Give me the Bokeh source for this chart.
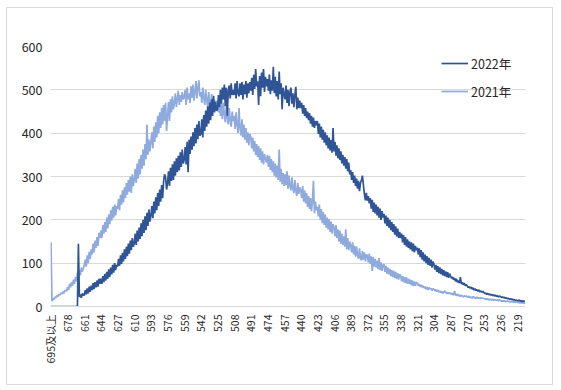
import math
from bokeh.plotting import figure
from bokeh.models import Range1d, FixedTicker, Legend, LegendItem, InlineStyleSheet
from bokeh.embed import file_html
from bokeh.resources import INLINE

# categories: scores from "695及以上" down to 211
scores = ["695及以上"] + [str(s) for s in range(694, 210, -1)]
tick_step = 17
y_ticks = [0, 100, 200, 300, 400, 500, 600]

series_names = ["2022年", "2021年"]

counts_2021 = [
    148,
    12, 18, 16, 22, 20, 25, 23, 28, 26, 31, 29, 34, 30, 36, 38, 35,
    45, 38, 52, 44, 56, 48, 62, 52, 68, 58, 78, 66, 84, 72, 90, 80, 88,
    95, 108, 92, 118, 100, 126, 110, 132, 120, 145, 125, 152, 135, 160, 140, 170, 158,
    175, 158, 188, 168, 195, 172, 205, 180, 212, 190, 222, 198, 230, 205, 235, 210, 232,
    225, 248, 222, 258, 235, 268, 240, 275, 250, 285, 258, 292, 265, 300, 262, 305, 278,
    292, 318, 285, 330, 295, 340, 305, 350, 318, 362, 325, 375, 340, 420, 350, 385, 358,
    380, 402, 365, 415, 380, 425, 390, 440, 400, 448, 412, 458, 420, 465, 428, 470, 405,
    440, 472, 428, 478, 448, 485, 455, 470, 492, 460, 480, 498, 465, 488, 472, 495, 478,
    482, 500, 465, 505, 478, 492, 470, 508, 482, 512, 475, 495, 520, 480, 505, 522, 485,
    495, 470, 505, 482, 465, 500, 475, 462, 495, 470, 455, 490, 462, 480, 452, 475, 460,
    475, 448, 480, 440, 468, 432, 470, 445, 425, 462, 438, 420, 458, 430, 415, 450, 428,
    440, 410, 448, 420, 400, 458, 412, 395, 432, 390, 420, 385, 412, 378, 402, 372, 398,
    392, 365, 390, 358, 382, 350, 375, 345, 370, 338, 365, 332, 358, 328, 352, 340, 332,
    350, 322, 348, 315, 340, 310, 335, 302, 330, 298, 325, 292, 362, 288, 318, 282, 308,
    278, 305, 280, 312, 272, 302, 278, 268, 298, 272, 262, 292, 268, 255, 285, 260, 275,
    268, 250, 278, 242, 268, 238, 262, 230, 255, 225, 250, 220, 245, 290, 215, 242, 222,
    230, 208, 235, 200, 225, 192, 218, 188, 212, 182, 205, 178, 202, 172, 196, 168, 190,
    182, 162, 188, 158, 178, 150, 175, 145, 168, 142, 162, 138, 178, 132, 158, 130, 150,
    142, 125, 148, 120, 140, 115, 138, 118, 110, 134, 112, 106, 128, 108, 125, 104, 120,
    118, 102, 122, 98, 116, 82, 114, 92, 110, 90, 106, 86, 112, 84, 102, 82, 96,
    97, 80, 94, 76, 90, 74, 87, 70, 84, 68, 82, 66, 80, 64, 77, 62, 74,
    72, 58, 70, 56, 68, 54, 67, 52, 64, 52, 62, 49, 60, 47, 58, 48, 56,
    54, 48, 52, 45, 50, 44, 48, 42, 46, 40, 45, 38, 44, 40, 42, 37, 41,
    40, 36, 39, 34, 38, 33, 36, 32, 35, 30, 34, 36, 31, 33, 29, 32, 30,
    31, 28, 30, 26, 36, 27, 25, 29, 24, 27, 23, 26, 24, 22, 25, 23, 24,
    23, 21, 24, 20, 22, 19, 23, 20, 21, 18, 22, 19, 20, 18, 21, 19, 19,
    19, 17, 18, 16, 18, 15, 17, 16, 15, 17, 14, 16, 15, 14, 16, 13, 15,
    14, 12, 13, 12, 14, 11, 12, 13, 11, 12, 10, 12, 11, 10, 11, 9, 11,
    10, 9, 10, 8, 9, 8, 9, 7, 8,
]

counts_2022 = [
    0, 0, 0, 0, 0, 0, 0, 0, 0, 0, 0, 0, 0, 0, 0, 0, 0, 0, 0, 0, 0, 0, 0, 0, 0, 0, 0, 0,
    145,
    22, 28, 20, 30, 26,
    26, 38, 28, 42, 30, 46, 34, 48, 38, 54, 40, 56, 44, 60, 46, 64, 52,
    64, 52, 70, 56, 75, 60, 80, 64, 86, 68, 90, 74, 96, 78, 100, 84, 96,
    92, 110, 94, 118, 98, 124, 104, 132, 110, 138, 116, 145, 122, 152, 130, 158, 138,
    145, 168, 142, 175, 150, 182, 156, 192, 162, 200, 170, 208, 176, 216, 186, 224, 196,
    210, 232, 204, 242, 215, 252, 222, 262, 232, 270, 242, 280, 250, 290, 305, 298, 270,
    284, 312, 278, 320, 290, 328, 292, 335, 302, 342, 310, 348, 314, 356, 322, 362, 330,
    338, 368, 328, 380, 310, 385, 352, 392, 362, 402, 370, 412, 376, 420, 386, 428, 394,
    398, 432, 390, 442, 405, 452, 415, 462, 422, 470, 430, 478, 440, 486, 448, 472, 452,
    455, 488, 460, 500, 468, 505, 478, 512, 462, 505, 440, 498, 510, 480, 515, 488, 500,
    488, 515, 480, 520, 492, 485, 515, 488, 518, 478, 512, 490, 520, 482, 515, 492, 518,
    498, 528, 488, 535, 502, 548, 508, 520, 465, 532, 485, 540, 505, 548, 495, 530, 508,
    525, 498, 535, 490, 522, 498, 553, 492, 530, 485, 520, 478, 542, 490, 515, 455, 505,
    490, 478, 510, 470, 500, 462, 495, 505, 468, 492, 460, 488, 507, 455, 482, 458, 475,
    458, 470, 445, 465, 440, 458, 435, 450, 430, 446, 422, 440, 415, 436, 412, 428, 418,
    428, 398, 422, 390, 415, 385, 408, 378, 402, 372, 395, 365, 390, 360, 384, 355, 412,
    358, 380, 348, 372, 342, 365, 338, 358, 330, 350, 325, 345, 318, 340, 312, 332, 305,
    315, 292, 310, 285, 302, 278, 295, 272, 290, 266, 285, 292, 302, 280, 260, 245, 262,
    244, 255, 238, 250, 226, 246, 218, 240, 215, 235, 210, 230, 205, 226, 200, 220, 205,
    214, 192, 210, 186, 205, 182, 200, 176, 195, 172, 190, 166, 185, 162, 180, 158, 172,
    158, 168, 148, 165, 142, 160, 138, 155, 135, 150, 132, 148, 128, 145, 125, 140, 130,
    136, 120, 134, 114, 130, 108, 125, 104, 120, 100, 116, 96, 112, 94, 108, 90, 104,
    98, 85, 96, 80, 93, 77, 90, 75, 87, 72, 84, 70, 81, 68, 79, 66, 76,
    70, 65, 68, 62, 66, 58, 64, 56, 60, 54, 68, 52, 56, 50, 54, 48, 51,
    47, 44, 46, 42, 45, 40, 43, 38, 41, 37, 39, 35, 38, 34, 36, 33, 35,
    32, 30, 31, 28, 30, 27, 29, 26, 28, 25, 27, 24, 26, 23, 25, 22, 24,
    23, 21, 22, 20, 21, 19, 20, 18, 19, 17, 18, 16, 17, 15, 16, 14, 15,
    14, 13, 15, 12, 14, 11, 13, 12, 12,
]

assert len(counts_2021) == len(scores), len(counts_2021)
assert len(counts_2022) == len(scores), len(counts_2022)

n = len(scores)
xs = list(range(n))

FONT = "Noto Sans CJK SC"
TEXT = "#262626"
GRID = "#D9D9D9"

p = figure(
    frame_width=475, frame_height=260,
    min_border_left=43, min_border_top=38, min_border_right=27, min_border_bottom=78,
    x_range=Range1d(-0.5, n - 0.5), y_range=Range1d(0, 600),
    output_backend="svg", toolbar_location=None,
)
p.stylesheets = [InlineStyleSheet(css=":host { margin: 7px 0 0 6px; border: 1px solid #D9D9D9; }")]
p.outline_line_color = None
p.background_fill_color = "white"
p.border_fill_color = "white"

# y axis
p.yaxis.ticker = FixedTicker(ticks=y_ticks)
p.yaxis.axis_line_color = None
p.yaxis.major_tick_line_color = None
p.yaxis.minor_tick_line_color = None
p.yaxis.major_tick_out = 0
p.yaxis.major_tick_in = 0
p.yaxis.major_label_standoff = 8
p.yaxis.major_label_text_font = FONT
p.yaxis.major_label_text_font_size = "12.5px"
p.yaxis.major_label_text_color = TEXT

# x axis
tick_idx = list(range(0, n, tick_step))
p.xaxis.ticker = FixedTicker(ticks=tick_idx)
p.xaxis.major_label_overrides = {i: scores[i] for i in tick_idx}
p.xaxis.major_label_orientation = math.pi / 2
p.xaxis.axis_line_color = GRID
p.xaxis.major_tick_line_color = None
p.xaxis.minor_tick_line_color = None
p.xaxis.major_tick_out = 0
p.xaxis.major_tick_in = 0
p.xaxis.major_label_standoff = 8
p.xaxis.major_label_text_font = FONT
p.xaxis.major_label_text_font_size = "10.5px"
p.xaxis.major_label_text_color = TEXT

p.xgrid.grid_line_color = None
p.ygrid.grid_line_color = GRID
p.ygrid.grid_line_width = 1

r21 = p.line(xs, counts_2021, line_color="#8FAADC", line_width=1.7)
r22 = p.line(xs, counts_2022, line_color="#2F5597", line_width=1.7)

legend = Legend(
    items=[LegendItem(label=series_names[0], renderers=[r22]),
           LegendItem(label=series_names[1], renderers=[r21])],
    location=(391, 205),
    border_line_color=None, background_fill_alpha=0,
    padding=0, margin=0, spacing=8,
    glyph_width=27, glyph_height=20, label_standoff=3,
    label_text_font=FONT, label_text_font_size="12.5px", label_text_color=TEXT,
)
p.add_layout(legend)

open("out.html", "w").write(file_html(p, INLINE))
